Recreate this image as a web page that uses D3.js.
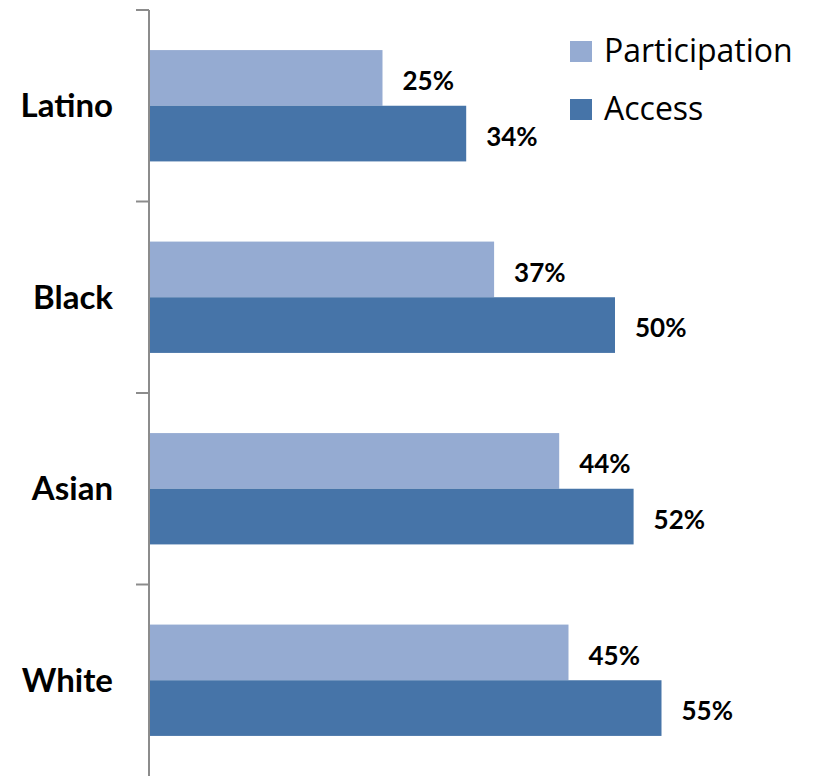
<!DOCTYPE html>
<html>
<head>
<meta charset="utf-8">
<script src="https://cdn.jsdelivr.net/npm/d3@7"></script>
<style>
  html, body { margin: 0; padding: 0; background: #fff; }
  text { font-family: Lato, "Open Sans", sans-serif; }
</style>
</head>
<body>
<div id="bar-chart"></div>
<script>
// chart data
const categories = ["Latino", "Black", "Asian", "White"];
const seriesNames = ["Participation", "Access"];
const participation = [25, 37, 44, 45];
const access = [34, 50, 52, 55];
const seriesColors = ["#95abd2", "#4674a8"];

function draw() {
  const width = 815;
  const height = 776;

  const svg = d3.select("#bar-chart")
    .append("svg")
    .attr("width", width)
    .attr("height", height);

  const rows = categories.map((c, i) => ({
    category: c,
    Participation: participation[i],
    Access: access[i]
  }));

  // x scale, the axis sits at x = 149
  const xScale = d3.scaleLinear()
    .domain([0, 60])
    .range([150, 708]);

  // outer band: one slot per category, ticks at the slot edges
  const yOuter = d3.scaleBand()
    .domain(categories)
    .range([10, 776])
    .padding(0);

  // inner band: two bars inside each slot
  const yInner = d3.scaleBand()
    .domain(seriesNames)
    .range([0, yOuter.bandwidth()])
    .paddingInner(0)
    .paddingOuter(0.72);

  const colorScale = d3.scaleOrdinal()
    .domain(seriesNames)
    .range(seriesColors);

  // bars
  const groups = svg.append("g")
    .selectAll("g")
    .data(rows)
    .join("g")
    .attr("transform", d => `translate(0, ${yOuter(d.category)})`);

  groups.selectAll("rect")
    .data(d => seriesNames.map(k => ({key: k, value: d[k]})))
    .join("rect")
    .attr("x", xScale(0))
    .attr("y", d => yInner(d.key))
    .attr("width", d => xScale(d.value) - xScale(0))
    .attr("height", yInner.bandwidth())
    .attr("fill", d => colorScale(d.key));

  // value labels
  groups.selectAll("text")
    .data(d => seriesNames.map(k => ({key: k, value: d[k]})))
    .join("text")
    .attr("x", d => xScale(d.value) + 20)
    .attr("y", d => yInner(d.key) + yInner.bandwidth() / 2 + 3)
    .attr("dy", "0.35em")
    .attr("font-size", 26)
    .attr("font-weight", "bold")
    .attr("fill", "#000")
    .text(d => d.value + "%");

  // category axis
  const yAxis = d3.axisLeft(yOuter)
    .tickSize(0)
    .tickPadding(36);

  const yAxisGroup = svg.append("g")
    .attr("transform", "translate(149, 1)")
    .call(yAxis);

  yAxisGroup.select(".domain").remove();
  yAxisGroup.selectAll("text")
    .attr("font-size", 33)
    .attr("font-weight", "bold")
    .attr("fill", "#000")
    .style("font-family", "Lato, 'Open Sans', sans-serif");

  // axis line and the ticks at slot edges
  const edges = categories.map(c => yOuter(c)).concat([yOuter.range()[1]]);

  svg.append("line")
    .attr("x1", 149).attr("x2", 149)
    .attr("y1", edges[0]).attr("y2", height)
    .attr("stroke", "#8c8c8c")
    .attr("stroke-width", 2);

  svg.append("g")
    .selectAll("line")
    .data(edges.slice(0, 4))
    .join("line")
    .attr("x1", 136).attr("x2", 149)
    .attr("y1", d => d).attr("y2", d => d)
    .attr("stroke", "#8c8c8c")
    .attr("stroke-width", 2);

  // legend
  const legend = svg.append("g")
    .selectAll("g")
    .data(seriesNames)
    .join("g")
    .attr("transform", (d, i) => `translate(570, ${41 + i * 58})`);

  legend.append("rect")
    .attr("width", 22)
    .attr("height", 21)
    .attr("fill", d => colorScale(d));

  legend.append("text")
    .attr("x", 34)
    .attr("y", 9.5)
    .attr("dy", "0.35em")
    .attr("font-size", 32)
    .style("font-family", "'Open Sans', Lato, sans-serif")
    .attr("fill", "#000")
    .text(d => d);
}

draw();
</script>
</body>
</html>
